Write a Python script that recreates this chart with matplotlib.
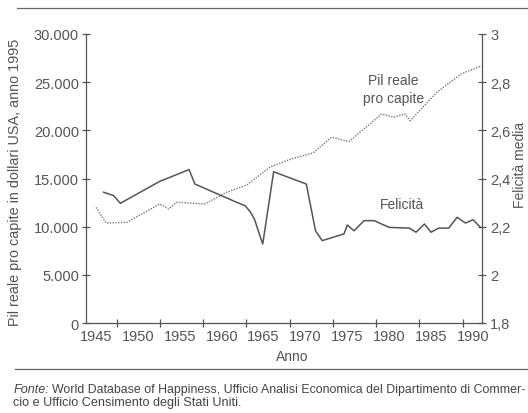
import matplotlib.pyplot as plt
from matplotlib.lines import Line2D
from matplotlib.ticker import FuncFormatter

plt.rcParams['font.family'] = ['Liberation Sans', 'DejaVu Sans']

GREY = '#555555'

# Pil reale pro capite (dollari USA 1995)
pil_years = [1945.0, 1946.2, 1948.7, 1952.6, 1953.7, 1954.6, 1958.0, 1960.6,
             1963.0, 1965.8, 1968.2, 1970.9, 1973.1, 1975.2, 1979.1, 1980.5,
             1981.9, 1982.5, 1985.7, 1988.6, 1991.0]
pil_values = [12000, 10380, 10450, 12360, 11840, 12530, 12360, 13570,
              14330, 16200, 17000, 17650, 19280, 18830, 21700, 21360,
              21700, 21000, 23960, 25860, 26700]

# Felicita media
fel_years = [1945.9, 1947.1, 1947.9, 1952.6, 1956.1, 1956.8, 1961.8, 1962.8,
             1963.4, 1963.9, 1964.9, 1966.2, 1970.1, 1971.2, 1972.0, 1974.6,
             1975.0, 1975.8, 1977.0, 1978.2, 1980.0, 1982.4, 1983.2, 1984.2,
             1985.0, 1985.9, 1987.1, 1988.1, 1989.1, 1990.0, 1990.9]
fel_values = [2.343, 2.329, 2.297, 2.388, 2.437, 2.377, 2.301, 2.287,
              2.262, 2.232, 2.128, 2.428, 2.377, 2.183, 2.142, 2.170,
              2.207, 2.183, 2.225, 2.225, 2.197, 2.194, 2.177, 2.211,
              2.177, 2.194, 2.194, 2.239, 2.215, 2.229, 2.197]

year_labels = [1945, 1950, 1955, 1960, 1965, 1970, 1975, 1980, 1985, 1990]
year_marks = [1947.5, 1952.6, 1957.8, 1962.9, 1968.1, 1973.3, 1978.4, 1983.6, 1988.8]
left_ticks = [0, 5000, 10000, 15000, 20000, 25000, 30000]
right_ticks = [1.8, 2.0, 2.2, 2.4, 2.6, 2.8, 3.0]

fig = plt.figure(figsize=(5.28, 4.14), dpi=100)
ax = fig.add_axes([86/528, 1 - 324/414, (481.7 - 86)/528, (324 - 35)/414])
ax2 = ax.twinx()

ax.plot(pil_years, pil_values, color='#777777', lw=1.0, ls=(0, (1, 1)))
ax2.plot(fel_years, fel_values, color=GREY, lw=1.1)

ax.set_xlim(1943.8, 1991.04)
ax.set_ylim(0, 30000)
ax2.set_ylim(1.8, 3.0)

for a in (ax, ax2):
    a.spines['top'].set_visible(False)
    for s in a.spines.values():
        s.set_color(GREY)
        s.set_linewidth(0.9)
ax.spines['right'].set_visible(False)
ax2.spines['left'].set_visible(False)
ax2.spines['bottom'].set_visible(False)

ax.set_xticks(year_labels)
ax.set_xticklabels([str(y) for y in year_labels])
ax.set_xticks(year_marks, minor=True)
ax.tick_params(axis='x', which='major', length=0, pad=4, labelsize=10.5, labelcolor=GREY)
ax.tick_params(axis='x', which='minor', direction='inout', length=6, color=GREY, width=0.9)

ax.set_yticks(left_ticks)
ax.yaxis.set_major_formatter(FuncFormatter(lambda v, p: f'{int(v):,}'.replace(',', '.')))
ax.tick_params(axis='y', direction='inout', length=6, color=GREY, width=0.9,
               labelsize=10.5, labelcolor=GREY, pad=2)

ax2.set_yticks(right_ticks)
ax2.yaxis.set_major_formatter(FuncFormatter(lambda v, p: f'{v:g}'.replace('.', ',')))
ax2.tick_params(axis='y', direction='inout', length=6, color=GREY, width=0.9,
                labelsize=10.5, labelcolor=GREY, pad=3)

ax.text(1980.5, 24300, 'Pil reale\npro capite', ha='center', va='center',
        fontsize=10, color=GREY, linespacing=1.3)
ax2.text(1981.5, 2.294, 'Felicità', ha='center', va='center', fontsize=10, color=GREY)

fig.text(15/528, 1 - 182/414, 'Pil reale pro capite in dollari USA, anno 1995',
         rotation=90, ha='center', va='center', fontsize=10.4, color=GREY)
fig.text(527/528, 1 - 165/414, 'Felicità media', rotation=90, ha='right', va='center',
         fontsize=10, color=GREY)
fig.text(292/528, 1 - 357/414, 'Anno', ha='center', va='center', fontsize=10, color=GREY)

# rules above and below the chart
fig.add_artist(Line2D([17/528, 1], [1 - 9/414, 1 - 9/414], color='#666666', lw=0.9))
fig.add_artist(Line2D([15/528, 1], [1 - 370/414, 1 - 370/414], color='#666666', lw=0.9))

fig.text(14/528, 1 - 390/414, 'Fonte:', style='italic', ha='left', va='center',
         fontsize=9.1, color='#444444')
fig.text(52/528, 1 - 390/414,
         'World Database of Happiness, Ufficio Analisi Economica del Dipartimento di Commer-',
         ha='left', va='center', fontsize=8.9, color='#444444')
fig.text(13/528, 1 - 403/414, 'cio e Ufficio Censimento degli Stati Uniti.',
         ha='left', va='center', fontsize=9.1, color='#444444')

fig.savefig('out.png', dpi=100)
